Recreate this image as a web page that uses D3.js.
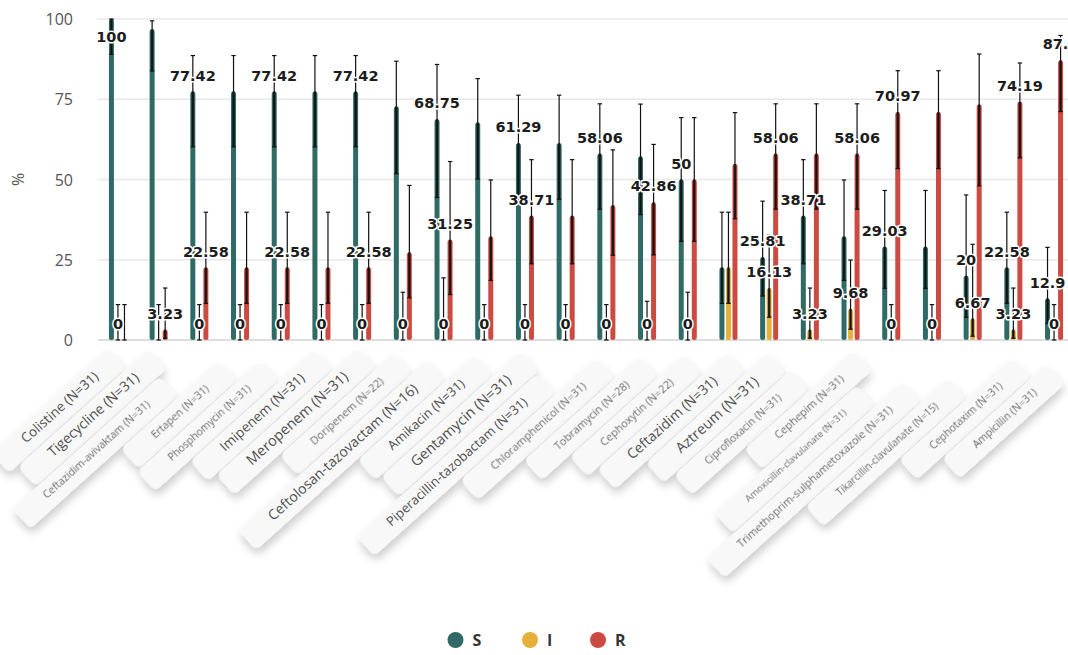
<!DOCTYPE html>
<html>
<head>
<meta charset="utf-8">
<script src="https://cdn.jsdelivr.net/npm/d3@7"></script>
<style>
  body { margin: 0; background: #fff; }
  svg { display: block; }
</style>
</head>
<body>
<svg id="chart" width="1068" height="655"></svg>
<script>
// Antibiotic susceptibility (S / I / R, %) with 95% confidence intervals
const antibiotics = [
  "Colistine", "Tigecycline", "Ceftazidim-avivaktam", "Ertapen", "Phosphomycin",
  "Imipenem", "Meropenem", "Doripenem", "Ceftolosan-tazovactam", "Amikacin",
  "Gentamycin", "Piperacillin-tazobactam", "Chloramphenicol", "Tobramycin", "Cephoxytin",
  "Ceftazidim", "Aztreum", "Ciprofloxacin", "Cephepim", "Amoxicillin-clavulanate",
  "Trimethoprim-sulphametoxazole", "Tikarcillin-clavulanate", "Cephotaxim", "Ampicillin"
];
const sampleSizes = [31, 31, 31, 31, 31, 31, 31, 22, 16, 31, 31, 31, 31, 28, 22, 31, 31, 31, 31, 31, 31, 15, 31, 31];

const seriesNames = ["S", "I", "R"];

const valuesS = [100, 96.77, 77.42, 77.42, 77.42, 77.42, 77.42, 72.73, 68.75, 67.74, 61.29, 61.29, 58.06, 57.14, 50,
                 22.58, 25.81, 38.71, 32.26, 29.03, 29.03, 20, 22.58, 12.9];
const valuesI = [0, 0, 0, 0, 0, 0, 0, 0, 0, 0, 0, 0, 0, 0, 0,
                 22.58, 16.13, 3.23, 9.68, 0, 0, 6.67, 3.23, 0];
const valuesR = [0, 3.23, 22.58, 22.58, 22.58, 22.58, 22.58, 27.27, 31.25, 32.26, 38.71, 38.71, 41.94, 42.86, 50,
                 54.84, 58.06, 58.06, 58.06, 70.97, 70.97, 73.33, 74.19, 87.1];

const lowS  = [88.97, 83.81, 60.19, 60.19, 60.19, 60.19, 60.19, 51.85, 44.40, 50.14, 43.82, 43.82, 40.77, 39.07, 30.72,
               11.39, 13.70, 23.73, 18.57, 16.10, 16.10, 7.05, 11.39, 5.13];
const highS = [100, 99.43, 88.61, 88.61, 88.61, 88.61, 88.61, 86.85, 85.84, 81.43, 76.27, 76.27, 73.58, 73.49, 69.28,
               39.81, 43.25, 56.18, 49.86, 46.59, 46.59, 45.19, 39.81, 28.85];
const lowI  = [0, 0, 0, 0, 0, 0, 0, 0, 0, 0, 0, 0, 0, 0, 0,
               11.39, 7.09, 0.57, 3.35, 0, 0, 1.19, 0.57, 0];
const highI = [11.03, 11.03, 11.03, 11.03, 11.03, 11.03, 11.03, 14.87, 19.36, 11.03, 11.03, 11.03, 11.03, 12.06, 14.87,
               39.81, 32.63, 16.19, 24.90, 11.03, 11.03, 29.82, 16.19, 11.03];
const lowR  = [0, 0.57, 11.39, 11.39, 11.39, 11.39, 11.39, 13.15, 14.16, 18.57, 23.73, 23.73, 26.42, 26.51, 30.72,
               37.77, 40.77, 40.77, 40.77, 53.41, 53.41, 48.05, 56.75, 71.15];
const highR = [11.03, 16.19, 39.81, 39.81, 39.81, 39.81, 39.81, 48.15, 55.60, 49.86, 56.18, 56.18, 59.23, 60.93, 69.28,
               70.84, 73.58, 73.58, 73.58, 83.90, 83.90, 89.10, 86.30, 94.87];

const yTicks = [0, 25, 50, 75, 100];

// Layout of the slanted category tags: shift along the slant and font size
const tagShift = [39, 40, 80, 56, 55, 38, 35, 42, 52, 44, 37, 70, 46, 43, 39, 36, 36, 60, 31, 82, 76, 70, 39, 48];
const tagFont  = [13.5, 14, 10.5, 10.5, 10.5, 13.5, 14.5, 11, 14, 13, 14.5, 13, 11, 11, 11, 14, 14.5, 10.5, 11, 9.5, 11, 10, 10.5, 10.5];

const colors = { S: "#2f6b64", I: "#e6b13a", R: "#cb4a42" };

const series = [
  { key: "S", values: valuesS, low: lowS, high: highS },
  { key: "I", values: valuesI, low: lowI, high: highI },
  { key: "R", values: valuesR, low: lowR, high: highR }
];

const svg = d3.select("#chart");
const W = 1068, H = 655;
const plot = { left: 97.6, right: 1074.4, top: 19, bottom: 340 };

const x = d3.scaleBand().domain(antibiotics).range([plot.left, plot.right]).padding(0);
const xs = d3.scaleBand().domain(seriesNames).range([0, x.bandwidth()]).paddingInner(0.66).paddingOuter(1.95);
const y = d3.scaleLinear().domain([0, 100]).range([plot.bottom, plot.top]);

const defs = svg.append("defs");
const shadow = defs.append("filter").attr("id", "tagShadow")
  .attr("x", "-20%").attr("y", "-80%").attr("width", "140%").attr("height", "260%");
shadow.append("feDropShadow").attr("dx", -3).attr("dy", 5).attr("stdDeviation", 4.5)
  .attr("flood-color", "#000").attr("flood-opacity", 0.2);
const soft = defs.append("filter").attr("id", "softText");
soft.append("feGaussianBlur").attr("stdDeviation", 0.35);

// Grid
const grid = svg.append("g");
grid.selectAll("line").data(yTicks).join("line")
  .attr("x1", plot.left).attr("x2", W)
  .attr("y1", d => y(d)).attr("y2", d => y(d))
  .attr("stroke", d => d === 0 ? "#d2d2d2" : "#e8e8e8")
  .attr("stroke-width", 1.3);

// Y axis
const yAxis = d3.axisLeft(y).tickValues(yTicks).tickSize(0).tickPadding(0);
const yg = svg.append("g").attr("transform", `translate(73,0)`).call(yAxis);
yg.select(".domain").remove();
yg.selectAll("text").attr("font-family", "Open Sans, sans-serif").attr("font-size", 16)
  .attr("fill", "#555").attr("dy", "0.35em").attr("x", 0);

svg.append("text").attr("transform", `translate(18,${y(50)}) rotate(-90)`)
  .attr("text-anchor", "middle").attr("dy", "0.35em")
  .attr("font-family", "Open Sans, sans-serif").attr("font-size", 16).attr("fill", "#555")
  .text("%");

// Category tags (slanted rounded boxes)
const ang = 42 * Math.PI / 180;
const ux = Math.cos(ang), uy = -Math.sin(ang);
const vx = Math.sin(ang), vy = Math.cos(ang);
const tags = svg.append("g");
antibiotics.forEach((name, i) => {
  const cx = x(name) + x.bandwidth() / 2;
  const a = tagShift[i], b = 11 + 0.6 * i;
  const ex = cx - a * ux + b * vx;
  const ey = plot.bottom - a * uy + b * vy;
  const g = tags.append("g").attr("transform", `translate(${ex},${ey}) rotate(-42)`);
  const fs = tagFont[i];
  const big = fs >= 12.5;
  const t = g.append("text")
    .attr("text-anchor", "end").attr("dy", "0.35em")
    .attr("font-family", "Open Sans, sans-serif").attr("font-size", fs)
    .attr("fill", big ? "#4f4f4f" : "#6c6c6c")
    .attr("filter", big ? null : "url(#softText)")
    .text(`${name} (N=${sampleSizes[i]})`);
  const len = t.node().getComputedTextLength();
  g.insert("rect", "text")
    .attr("x", -len - 32).attr("y", -12).attr("width", len + 58).attr("height", 27)
    .attr("rx", 6).attr("fill", "#f8f8f8").attr("filter", "url(#tagShadow)");
});

// Bars
const barW = 5;
const bars = svg.append("g");
series.forEach(s => {
  bars.append("g").selectAll("rect").data(antibiotics).join("rect")
    .attr("x", (d, i) => x(d) + xs(s.key) + xs.bandwidth() / 2 - barW / 2)
    .attr("y", (d, i) => y(s.values[i]))
    .attr("width", barW)
    .attr("height", (d, i) => y(0) - y(s.values[i]))
    .attr("rx", barW / 2)
    .attr("fill", colors[s.key]);
});

// Error bars
const err = svg.append("g");
series.forEach(s => {
  antibiotics.forEach((d, i) => {
    const cx = x(d) + xs(s.key) + xs.bandwidth() / 2;
    const lo = s.low[i], hi = s.high[i], v = s.values[i];
    err.append("line").attr("x1", cx).attr("x2", cx).attr("y1", y(lo)).attr("y2", y(hi))
      .attr("stroke", "#111").attr("stroke-width", 1.2);
    if (v > lo) {
      err.append("line").attr("x1", cx).attr("x2", cx).attr("y1", y(lo)).attr("y2", y(Math.min(v, hi)))
        .attr("stroke", "#111").attr("stroke-opacity", 0.8).attr("stroke-width", 2.6);
    }
    [hi, lo].forEach(e => {
      err.append("line").attr("x1", cx - 2.2).attr("x2", cx + 2.2).attr("y1", y(e)).attr("y2", y(e))
        .attr("stroke", "#111").attr("stroke-width", 1.2);
    });
  });
});

// Value labels, larger bars first; overlapping labels are dropped
const fmt = v => String(+v.toFixed(2));
const labels = [];
series.forEach((s, si) => {
  antibiotics.forEach((d, i) => {
    const v = s.values[i];
    labels.push({
      v, si, i,
      cx: x(d) + xs(s.key) + xs.bandwidth() / 2,
      cy: Math.max(y(v) - 16, plot.top + 18),
      text: fmt(v)
    });
  });
});
labels.sort((p, q) => (q.v - p.v) || (p.si - q.si) || (p.i - q.i));
const lab = svg.append("g");
const placed = [];
labels.forEach(L => {
  const t = lab.append("text")
    .attr("x", L.cx).attr("y", L.cy).attr("dy", "0.35em")
    .attr("text-anchor", "middle")
    .attr("font-family", "DejaVu Sans, sans-serif").attr("font-size", 14.5).attr("font-weight", "bold")
    .attr("fill", "#1c1c1c").attr("stroke", "#fff").attr("stroke-width", 3)
    .attr("paint-order", "stroke").attr("stroke-linejoin", "round")
    .text(L.text);
  const w = t.node().getComputedTextLength() + 3.6;
  const h = 21.8;
  const r = { x0: L.cx - w / 2, x1: L.cx + w / 2, y0: L.cy - h / 2, y1: L.cy + h / 2 };
  const hit = placed.some(p => r.x0 < p.x1 && r.x1 > p.x0 && r.y0 < p.y1 && r.y1 > p.y0);
  if (hit) t.remove(); else placed.push(r);
});

// Legend
const legend = svg.append("g").attr("transform", "translate(0,640)");
const legX = [455.5, 530, 598];
seriesNames.forEach((k, i) => {
  legend.append("circle").attr("cx", legX[i]).attr("cy", 0).attr("r", 8).attr("fill", colors[k]);
  legend.append("text").attr("x", legX[i] + 17).attr("y", 0).attr("dy", "0.36em")
    .attr("font-family", "Open Sans, sans-serif").attr("font-size", 16).attr("font-weight", "bold")
    .attr("fill", "#333").text(k);
});
</script>
</body>
</html>
